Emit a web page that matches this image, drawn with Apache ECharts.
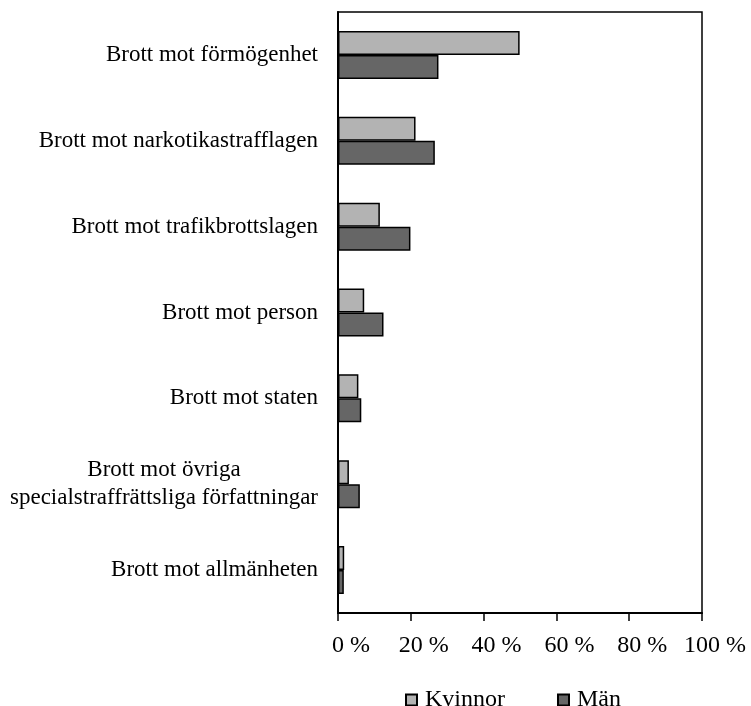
<!DOCTYPE html>
<html>
<head>
<meta charset="utf-8">
<script src="https://cdn.jsdelivr.net/npm/echarts@6/dist/echarts.min.js"></script>
<style>
    html, body { margin: 0; padding: 0; background: #fff; }
    #chart { width: 751px; height: 706px; }
</style>
</head>
<body>
<div id="chart"></div>
<script>
// brottskategorier, uppifrån och ned
var categories = [
    'Brott mot förmögenhet',
    'Brott mot narkotikastrafflagen',
    'Brott mot trafikbrottslagen',
    'Brott mot person',
    'Brott mot staten',
    'Brott mot övriga\nspecialstraffrättsliga författningar',
    'Brott mot allmänheten'
];
var kvinnor = [49.9, 21.3, 11.5, 7.2, 5.6, 3.0, 1.7];
var man = [27.6, 26.6, 19.9, 12.5, 6.4, 6.0, 1.6];
var xTicks = [0, 20, 40, 60, 80, 100];

var font = 'Liberation Serif';
var chart = echarts.init(document.getElementById('chart'));

var option = {
    animation: false,
    backgroundColor: '#fff',
    textStyle: { fontFamily: font, color: '#000' },
    grid: {
        left: 338,
        right: 49,
        top: 12,
        bottom: 93,
        show: true,
        borderColor: '#000',
        borderWidth: 1.5
    },
    legend: {
        left: 400,
        top: 683,
        icon: 'rect',
        itemWidth: 11,
        itemHeight: 11,
        itemGap: 52,
        textStyle: { fontFamily: font, fontSize: 24, color: '#000', padding: [0, 0, 0, 3] },
        data: ['Kvinnor', 'Män']
    },
    xAxis: {
        type: 'value',
        min: xTicks[0],
        max: xTicks[xTicks.length - 1],
        interval: 20,
        axisLine: { show: true, lineStyle: { color: '#000', width: 2 } },
        axisTick: { show: true, length: 8, lineStyle: { color: '#000', width: 1.5 } },
        splitLine: { show: false },
        axisLabel: {
            margin: 21,
            fontFamily: font,
            fontSize: 24,
            color: '#000',
            padding: [0, 0, 0, 26],
            formatter: '{value} %'
        }
    },
    yAxis: {
        type: 'category',
        inverse: true,
        data: categories,
        axisLine: { show: true, lineStyle: { color: '#000', width: 2 } },
        axisTick: { show: false },
        axisLabel: {
            margin: 20,
            fontFamily: font,
            fontSize: 23,
            color: '#000',
            lineHeight: 28,
            formatter: function(v) {
                return v.split('\n').map(function(line) {
                    return '{c|' + line + '}';
                }).join('\n');
            },
            rich: {
                c: { fontFamily: font, fontSize: 23, color: '#000', align: 'center', lineHeight: 28 }
            }
        }
    },
    series: [
        {
            name: 'Kvinnor',
            type: 'bar',
            data: kvinnor,
            barWidth: 24,
            barGap: '0%',
            itemStyle: { color: '#b3b3b3', borderColor: '#000', borderWidth: 1.5 }
        },
        {
            name: 'Män',
            type: 'bar',
            data: man,
            barWidth: 24,
            barGap: '0%',
            itemStyle: { color: '#666666', borderColor: '#000', borderWidth: 1.5 }
        }
    ]
};

chart.setOption(option);
</script>
</body>
</html>
